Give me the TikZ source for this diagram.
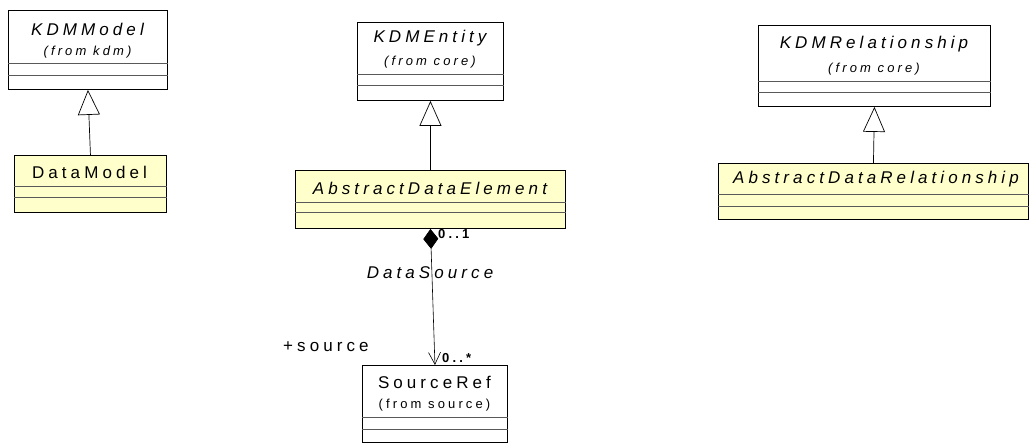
\documentclass[tikz,border=0pt]{standalone}
\usepackage{fontspec}
\setmainfont{Liberation Sans}
\newfontfamily\umlfont[LetterSpace=24]{Liberation Sans}
\usetikzlibrary{arrows.meta, positioning}

\begin{document}
\begin{tikzpicture}[x=1pt, y=-1pt, font=\umlfont]
  \definecolor{classfill}{RGB}{255,255,204}
  \tikzset{
    umlbox/.style={draw, line width=0.9pt, anchor=north west, inner sep=0pt},
    compline/.style={draw=black!65, line width=0.8pt},
    classname/.style={font=\umlfont\fontsize{17}{20}\selectfont},
    classit/.style={font=\umlfont\fontsize{17}{20}\selectfont\itshape},
    pkgname/.style={font=\umlfont\fontsize{13}{15}\selectfont},
    pkgit/.style={font=\umlfont\fontsize{13}{15}\selectfont\itshape},
    multlabel/.style={font=\umlfont\fontsize{13}{15}\selectfont\bfseries, anchor=west, inner sep=0pt},
    gen/.style={-{Triangle[open, length=25pt, width=22pt]}, line width=0.7pt},
    comp/.style={{Diamond[length=20pt, width=15pt]}-{Straight Barb[length=12pt, width=12pt]}, line width=0.6pt}
  }
  \useasboundingbox (0,0) rectangle (1029,443);
  % --- KDMModel / DataModel ---
  \node[umlbox, fill=white, minimum width=159pt, minimum height=79pt] (kdmmodel) at (8,10) {};
  \draw[compline] (kdmmodel.west |- 0,63) -- (kdmmodel.east |- 0,63);
  \draw[compline] (kdmmodel.west |- 0,75) -- (kdmmodel.east |- 0,75);
  \node[classit] (kdmmodelname) at (87.5,29) {KDMModel};
  \node[pkgit] (kdmmodelpkg) at (87.5,52) {(from kdm)};
  \node[umlbox, fill=classfill, minimum width=152pt, minimum height=57pt] (datamodel) at (14,155) {};
  \draw[compline] (datamodel.west |- 0,186) -- (datamodel.east |- 0,186);
  \draw[compline] (datamodel.west |- 0,197) -- (datamodel.east |- 0,197);
  \node[classname] (datamodelname) at (89.5,172) {DataModel};
  \draw[gen] (datamodel.north) -- (kdmmodel.south);
  % --- KDMEntity / AbstractDataElement ---
  \node[umlbox, fill=white, minimum width=146pt, minimum height=78pt] (kdmentity) at (357,22) {};
  \draw[compline] (kdmentity.west |- 0,74) -- (kdmentity.east |- 0,74);
  \draw[compline] (kdmentity.west |- 0,85) -- (kdmentity.east |- 0,85);
  \node[classit] (kdmentityname) at (430,38) {KDMEntity};
  \node[pkgit] (kdmentitypkg) at (430,62) {(from core)};
  \node[umlbox, fill=classfill, minimum width=270pt, minimum height=58pt] (dataelement) at (295,170) {};
  \draw[compline] (dataelement.west |- 0,202) -- (dataelement.east |- 0,202);
  \draw[compline] (dataelement.west |- 0,212) -- (dataelement.east |- 0,212);
  \node[classit] (dataelementname) at (430,188) {AbstractDataElement};
  \draw[gen] (dataelement.north) -- (kdmentity.south);
  % --- KDMRelationship / AbstractDataRelationship ---
  \node[umlbox, fill=white, minimum width=232pt, minimum height=81pt] (kdmrel) at (758,25) {};
  \draw[compline] (kdmrel.west |- 0,81) -- (kdmrel.east |- 0,81);
  \draw[compline] (kdmrel.west |- 0,92) -- (kdmrel.east |- 0,92);
  \node[classit] (kdmrelname) at (874,44) {KDMRelationship};
  \node[pkgit] (kdmrelpkg) at (874,69) {(from core)};
  \node[umlbox, fill=classfill, minimum width=310pt, minimum height=56pt] (datarel) at (718,163) {};
  \draw[compline] (datarel.west |- 0,194) -- (datarel.east |- 0,194);
  \draw[compline] (datarel.west |- 0,206) -- (datarel.east |- 0,206);
  \node[classit] (datarelname) at (876,179) {AbstractDataRelationship};
  \draw[gen] (datarel.north) -- (kdmrel.south);
  % --- SourceRef ---
  \node[umlbox, fill=white, minimum width=145pt, minimum height=77pt] (sourceref) at (362,365) {};
  \draw[compline] (sourceref.west |- 0,417) -- (sourceref.east |- 0,417);
  \draw[compline] (sourceref.west |- 0,429) -- (sourceref.east |- 0,429);
  \node[classname] (sourcerefname) at (434.5,382) {SourceRef};
  \node[pkgname] (sourcerefpkg) at (434.5,405) {(from source)};
  % --- DataSource association ---
  \draw[comp] (dataelement.south) -- (sourceref.north);
  \node[multlabel] (multone) at (438,234) {0..1};
  \node[classit] (assocname) at (430,273) {DataSource};
  \node[classname, anchor=west, inner sep=0pt] (rolename) at (283,347) {+source};
  \node[multlabel] (multmany) at (442,358) {0..*};
\end{tikzpicture}
\end{document}
